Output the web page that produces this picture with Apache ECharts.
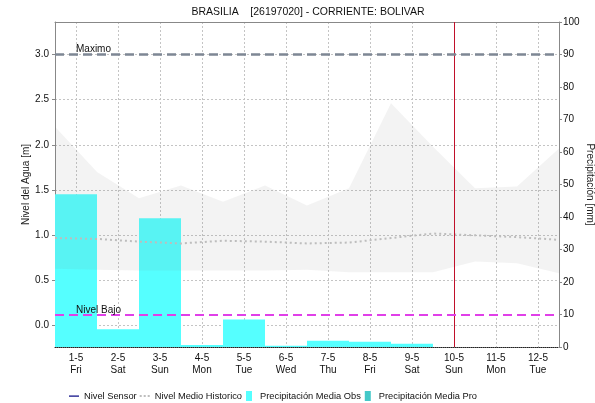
<!DOCTYPE html>
<html>
<head>
<meta charset="utf-8">
<title>BRASILIA - CORRIENTE: BOLIVAR</title>
<script src="https://cdn.jsdelivr.net/npm/echarts@6/dist/echarts.min.js"></script>
<style>
  html, body { margin: 0; padding: 0; background: #fff; }
  #chart { width: 595px; height: 403px; }
</style>
</head>
<body>
<div id="chart"></div>
<script>
// categorias (dia-mes y dia de la semana)
const categories = ['1-5\nFri', '2-5\nSat', '3-5\nSun', '4-5\nMon', '5-5\nTue', '6-5\nWed',
  '7-5\nThu', '8-5\nFri', '9-5\nSat', '10-5\nSun', '11-5\nMon', '12-5\nTue']
// precipitacion [mm] por dia
const precipObs = [47.0, 5.5, 39.6, 0.6, 8.5, 0.4, 1.9, 1.6, 1.0, null, null, null]
const precipPro = [null, null, null, null, null, null, null, null, null, null, null, null]
// serie historica [m], un punto por inicio de dia (1-5 00:00 ... 13-5 00:00)
const histDays = ['1-5', '2-5', '3-5', '4-5', '5-5', '6-5', '7-5', '8-5', '9-5', '10-5', '11-5', '12-5', '13-5']
const histMax = [2.20, 1.70, 1.41, 1.55, 1.37, 1.55, 1.33, 1.52, 2.46, 1.98, 1.52, 1.54, 1.96]
const histMin = [0.63, 0.62, 0.61, 0.61, 0.61, 0.61, 0.62, 0.59, 0.59, 0.59, 0.71, 0.69, 0.58]
const histMean = [0.97, 0.96, 0.93, 0.91, 0.94, 0.93, 0.91, 0.92, 0.97, 1.02, 1.00, 0.98, 0.95]
const nivelSensor = []
// umbrales y dia actual
const nivelMaximo = 3.0
const nivelBajo = 0.12
const diaActual = '10-5\nSun'

const font = 'Liberation Sans, Arial, sans-serif'
const gridLine = { color: '#c4c4c4', type: [2, 2], width: 1 }
// medios dias, solo para las lineas verticales de la rejilla (al mediodia)
const halfDays = Array.from({ length: categories.length * 2 + 1 }, (_, i) => String(i))

const myChart = echarts.init(document.getElementById('chart'), null, { renderer: 'canvas' })

const option = {
  animation: false,
  textStyle: { fontFamily: font },
  title: {
    text: 'BRASILIA    [26197020] - CORRIENTE: BOLIVAR',
    left: 303,
    textAlign: 'center',
    top: 2,
    textStyle: { fontSize: 10.5, fontWeight: 'normal', color: '#111', fontFamily: font }
  },
  // sin ajuste automatico: el area de trazado queda fija
  grid: { left: 55, right: 36, top: 22, bottom: 56, outerBoundsMode: 'none', containLabel: false },
  legend: {
    left: 64,
    top: 386,
    itemWidth: 10,
    itemHeight: 10,
    itemGap: 3,
    textStyle: { fontSize: 9.3, color: '#111' },
    data: [
      { name: 'Nivel Sensor', icon: 'path://M0,0M10,10M0,4.5h10v1.2h-10z' },
      { name: 'Nivel Medio Historico', icon: 'path://M0,0M10,10M0,4h2v2h-2zM4,4h2v2h-2zM8,4h2v2h-2z' },
      { name: 'Precipitación Media Obs', icon: 'path://M0,0M10,10M1,0h6v10h-6z' },
      { name: 'Precipitación Media Pro', icon: 'path://M0,0M10,10M1,0h6v10h-6z' }
    ]
  },
  xAxis: [
    {
      // eje de dias (barras y etiquetas)
      type: 'category',
      data: categories,
      boundaryGap: true,
      position: 'bottom',
      axisLine: { onZero: false, lineStyle: { color: '#222', type: 'dotted', width: 1 } },
      axisTick: { alignWithLabel: true, length: 3, lineStyle: { color: '#888' } },
      axisLabel: { fontSize: 10, color: '#111', lineHeight: 12, margin: 5 },
      splitLine: { show: false }
    },
    {
      // eje de inicios de dia para la serie historica
      type: 'category',
      data: histDays,
      boundaryGap: false,
      position: 'top',
      axisLine: { show: true, onZero: false, lineStyle: { color: '#888' } },
      axisTick: { show: false },
      axisLabel: { show: false },
      splitLine: { show: false }
    },
    {
      // rejilla vertical en el mediodia de cada dia
      type: 'category',
      data: halfDays,
      boundaryGap: false,
      position: 'top',
      axisLine: { show: false },
      axisTick: { show: false },
      axisLabel: { show: false },
      splitLine: { show: true, interval: (i) => i % 2 === 1, lineStyle: gridLine }
    }
  ],
  yAxis: [
    {
      type: 'value',
      name: 'Nivel del Agua [m]',
      nameLocation: 'middle',
      nameGap: 24,
      nameMoveOverlap: false,
      nameTextStyle: { fontSize: 10, color: '#222' },
      min: -0.2355,
      max: 3.3595,
      splitNumber: 7,
      axisLine: { show: true, lineStyle: { color: '#888' } },
      axisTick: { show: true, length: 3, lineStyle: { color: '#888' } },
      axisLabel: {
        fontSize: 10,
        color: '#111',
        margin: 6,
        showMinLabel: false,
        showMaxLabel: false,
        formatter: v => v.toFixed(1)
      },
      splitLine: { show: true, lineStyle: gridLine }
    },
    {
      type: 'value',
      name: 'Precipitación [mm]',
      nameLocation: 'middle',
      nameRotate: -90,
      nameGap: 26,
      nameMoveOverlap: false,
      nameTextStyle: { fontSize: 10, color: '#222' },
      min: 0,
      max: 100,
      interval: 10,
      axisLine: { show: true, lineStyle: { color: '#888' } },
      axisTick: { show: true, length: 3, lineStyle: { color: '#888' } },
      axisLabel: { fontSize: 10, color: '#111', margin: 4 },
      splitLine: { show: false }
    }
  ],
  series: [
    {
      name: 'Precipitación Media Obs',
      type: 'bar',
      xAxisIndex: 0,
      yAxisIndex: 1,
      stack: 'precip',
      barCategoryGap: '0%',
      itemStyle: { color: '#55ffff' },
      data: precipObs,
      // linea del dia actual
      markLine: {
        silent: true,
        symbol: 'none',
        label: { show: false },
        data: [{ xAxis: diaActual, lineStyle: { color: '#c0102a', width: 1, type: 'solid' } }]
      }
    },
    {
      name: 'Precipitación Media Pro',
      type: 'bar',
      xAxisIndex: 0,
      yAxisIndex: 1,
      stack: 'precip',
      barCategoryGap: '0%',
      itemStyle: { color: '#44c8c8' },
      data: precipPro
    },
    {
      // limite inferior de la banda historica (invisible)
      name: 'hmin',
      type: 'line',
      xAxisIndex: 1,
      yAxisIndex: 0,
      stack: 'banda',
      symbol: 'none',
      lineStyle: { opacity: 0 },
      data: histMin
    },
    {
      // banda historica min-max
      name: 'hmax',
      type: 'line',
      xAxisIndex: 1,
      yAxisIndex: 0,
      stack: 'banda',
      symbol: 'none',
      lineStyle: { opacity: 0 },
      areaStyle: { color: 'rgba(120,120,120,0.13)' },
      data: histMax.map((v, i) => +(v - histMin[i]).toFixed(2))
    },
    {
      name: 'Nivel Medio Historico',
      type: 'line',
      xAxisIndex: 1,
      yAxisIndex: 0,
      symbol: 'none',
      itemStyle: { color: '#bdbdbd' },
      lineStyle: { color: '#bdbdbd', width: 2, type: [2, 3] },
      data: histMean
    },
    {
      name: 'Nivel Sensor',
      type: 'line',
      xAxisIndex: 1,
      yAxisIndex: 0,
      symbol: 'none',
      itemStyle: { color: '#000080' },
      lineStyle: { color: '#000080', width: 1.5 },
      data: nivelSensor,
      markLine: {
        silent: true,
        symbol: 'none',
        data: [
          {
            yAxis: nivelMaximo,
            lineStyle: { color: '#7e8794', width: 2.5, type: [9, 5] },
            label: {
              show: true, position: 'insideStartTop', formatter: 'Maximo',
              fontSize: 10, color: '#111', padding: [0, 0, -5, 16]
            }
          },
          {
            yAxis: nivelBajo,
            lineStyle: { color: '#e040e8', width: 2, type: [9, 5] },
            label: {
              show: true, position: 'insideStartTop', formatter: 'Nivel Bajo',
              fontSize: 10, color: '#111', padding: [0, 0, -5, 16]
            }
          }
        ]
      }
    }
  ]
}

myChart.setOption(option)
</script>
</body>
</html>
